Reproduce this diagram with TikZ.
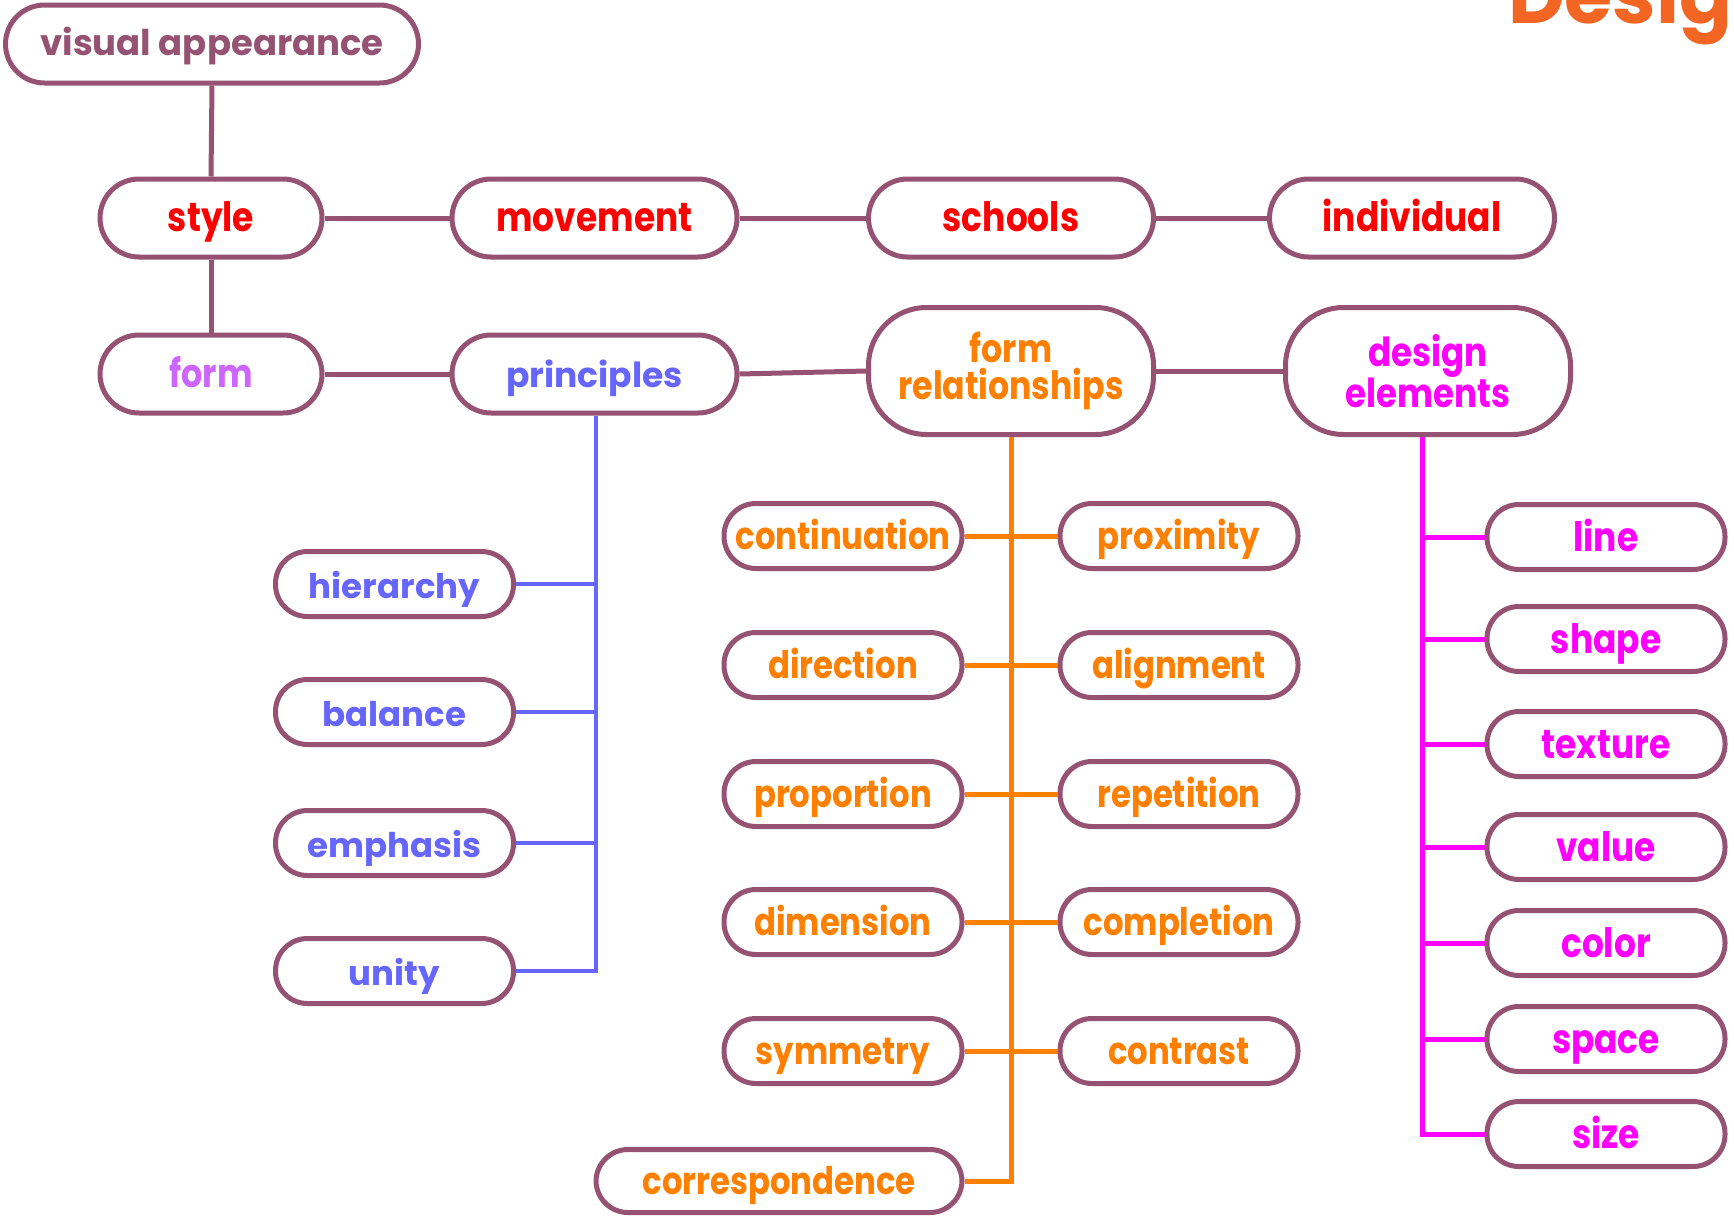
\documentclass[tikz,border=0pt]{standalone}
\usepackage{fontspec}
\setmainfont{Poppins}
\newfontfamily\cfont{Poppins}[FakeStretch=0.85]
\definecolor{edge}{RGB}{150,82,114}
\definecolor{cred}{RGB}{255,0,0}
\definecolor{cpur}{RGB}{204,102,255}
\definecolor{cblue}{RGB}{102,102,255}
\definecolor{corange}{RGB}{255,128,0}
\definecolor{cmag}{RGB}{255,0,255}
\definecolor{ctitle}{RGB}{242,101,34}
\newcommand\fsz[2]{\fontsize{#1}{#2}\selectfont}
\tikzset{
  bx/.style={draw=edge, line width=5pt, fill=white, inner sep=0pt, align=center},
  tx/.style={text height=#1, text depth=0pt},
  big/.style={bx, tx=27pt, minimum width=285pt, minimum height=78pt, rounded corners=39pt},
  tall/.style={bx, minimum width=285pt, minimum height=127pt, rounded corners=58pt},
  small/.style={bx, tx=27pt, minimum width=238pt, minimum height=65pt, rounded corners=32pt},
  redt/.style={text=cred, font=\cfont\bfseries\fsz{40.5}{40.5}},
  conn/.style={draw=edge, line width=5pt},
  bconn/.style={draw=cblue, line width=4.5pt},
  oconn/.style={draw=corange, line width=5pt},
  mconn/.style={draw=cmag, line width=5pt},
}
\begin{document}
\begin{tikzpicture}[x=1pt,y=-1pt]
\useasboundingbox (0,0) rectangle (1734,1216);
% title fragment
\node[anchor=base west, inner sep=0pt, text=ctitle, font=\bfseries\fsz{78}{78}] (title) at (1508,23) {Desig};
% top row
\node[bx, tx=22pt, minimum width=413pt, minimum height=78pt, rounded corners=39pt, text=edge, font=\bfseries\fsz{35.5}{35.5}] (va) at (212,44) {visual appearance};
\node[big, minimum width=222pt, redt] (style) at (211,218) {style};
\node[big, redt] (mov) at (594.5,218) {movement};
\node[big, redt] (sch) at (1011,218) {schools};
\node[big, redt] (ind) at (1412,218) {individual};
% second row
\node[big, minimum width=222pt, text=cpur, font=\cfont\bfseries\fsz{39.5}{39.5}] (form) at (211,374) {form};
\node[big, text=cblue, font=\bfseries\fsz{34.5}{34.5}] (pri) at (594.5,374) {principles};
\node[tall, text=corange, font=\cfont\bfseries\fsz{39}{37}] (fr) at (1011,371) {form\\relationships};
\node[tall, text=cmag, font=\cfont\bfseries\fsz{40}{37}] (de) at (1428,371) {design\\elements};
% blue
\tikzset{bl/.style={small, tx=28pt, text=cblue, font=\bfseries\fsz{34}{34}}}
\node[bl] (hi) at (394.5,584) {hierarchy};
\node[bl] (ba) at (394.5,712) {balance};
\node[bl] (em) at (394.5,843) {emphasis};
\node[bl] (un) at (394.5,971) {unity};
% orange
\tikzset{or/.style={small, tx=27pt, text=corange, font=\cfont\bfseries\fsz{38}{38}}}
\node[or] (cont) at (843,536) {continuation};
\node[or] (prox) at (1179,536) {proximity};
\node[or] (dir) at (843,665) {direction};
\node[or] (ali) at (1179,665) {alignment};
\node[or] (prop) at (843,794) {proportion};
\node[or] (rep) at (1179,794) {repetition};
\node[or] (dim) at (843,922) {dimension};
\node[or] (comp) at (1179,922) {completion};
\node[or] (sym) at (843,1051) {symmetry};
\node[or] (con) at (1179,1051) {contrast};
\node[or, minimum width=366pt, minimum height=63pt] (corr) at (779,1181) {correspondence};
% magenta
\tikzset{mg/.style={small, tx=29pt, text=cmag, font=\cfont\bfseries\fsz{40.5}{40.5}}}
\node[mg] (line) at (1606,537) {line};
\node[mg] (shape) at (1606,639) {shape};
\node[mg] (tex) at (1606,744) {texture};
\node[mg] (val) at (1606,847) {value};
\node[mg] (col) at (1606,943) {color};
\node[mg] (spa) at (1606,1039) {space};
\node[mg] (siz) at (1606,1134) {size};
% main connectors
\draw[conn] (va.south) -- (style.north);
\draw[conn] (style.east) -- (mov.west);
\draw[conn] (mov.east) -- (sch.west);
\draw[conn] (sch.east) -- (ind.west);
\draw[conn] (style.south) -- (form.north);
\draw[conn] (form.east) -- (pri.west);
\draw[conn] (pri.east) -- (fr.west);
\draw[conn] (fr.east) -- (de.west);
% blue connectors
\draw[bconn] ([xshift=1.5pt]pri.south) -- ([xshift=1.5pt]pri.south |- un.east) -- (un.east);
\foreach \n in {hi,ba,em} \draw[bconn] (\n.east) -- ([xshift=1.5pt]pri.south |- \n.east);
% orange connectors
\draw[oconn] (fr.south) -- (fr.south |- corr.east) -- (corr.east);
\foreach \l/\r in {cont/prox,dir/ali,prop/rep,dim/comp,sym/con} \draw[oconn] (\l.east) -- (\r.west);
% magenta connectors
\draw[mconn] ([xshift=-6pt]de.south) -- ([xshift=-6pt]de.south |- siz.west) -- (siz.west);
\foreach \n in {line,shape,tex,val,col,spa} \draw[mconn] ([xshift=-6pt]de.south |- \n.west) -- (\n.west);
\end{tikzpicture}
\end{document}
